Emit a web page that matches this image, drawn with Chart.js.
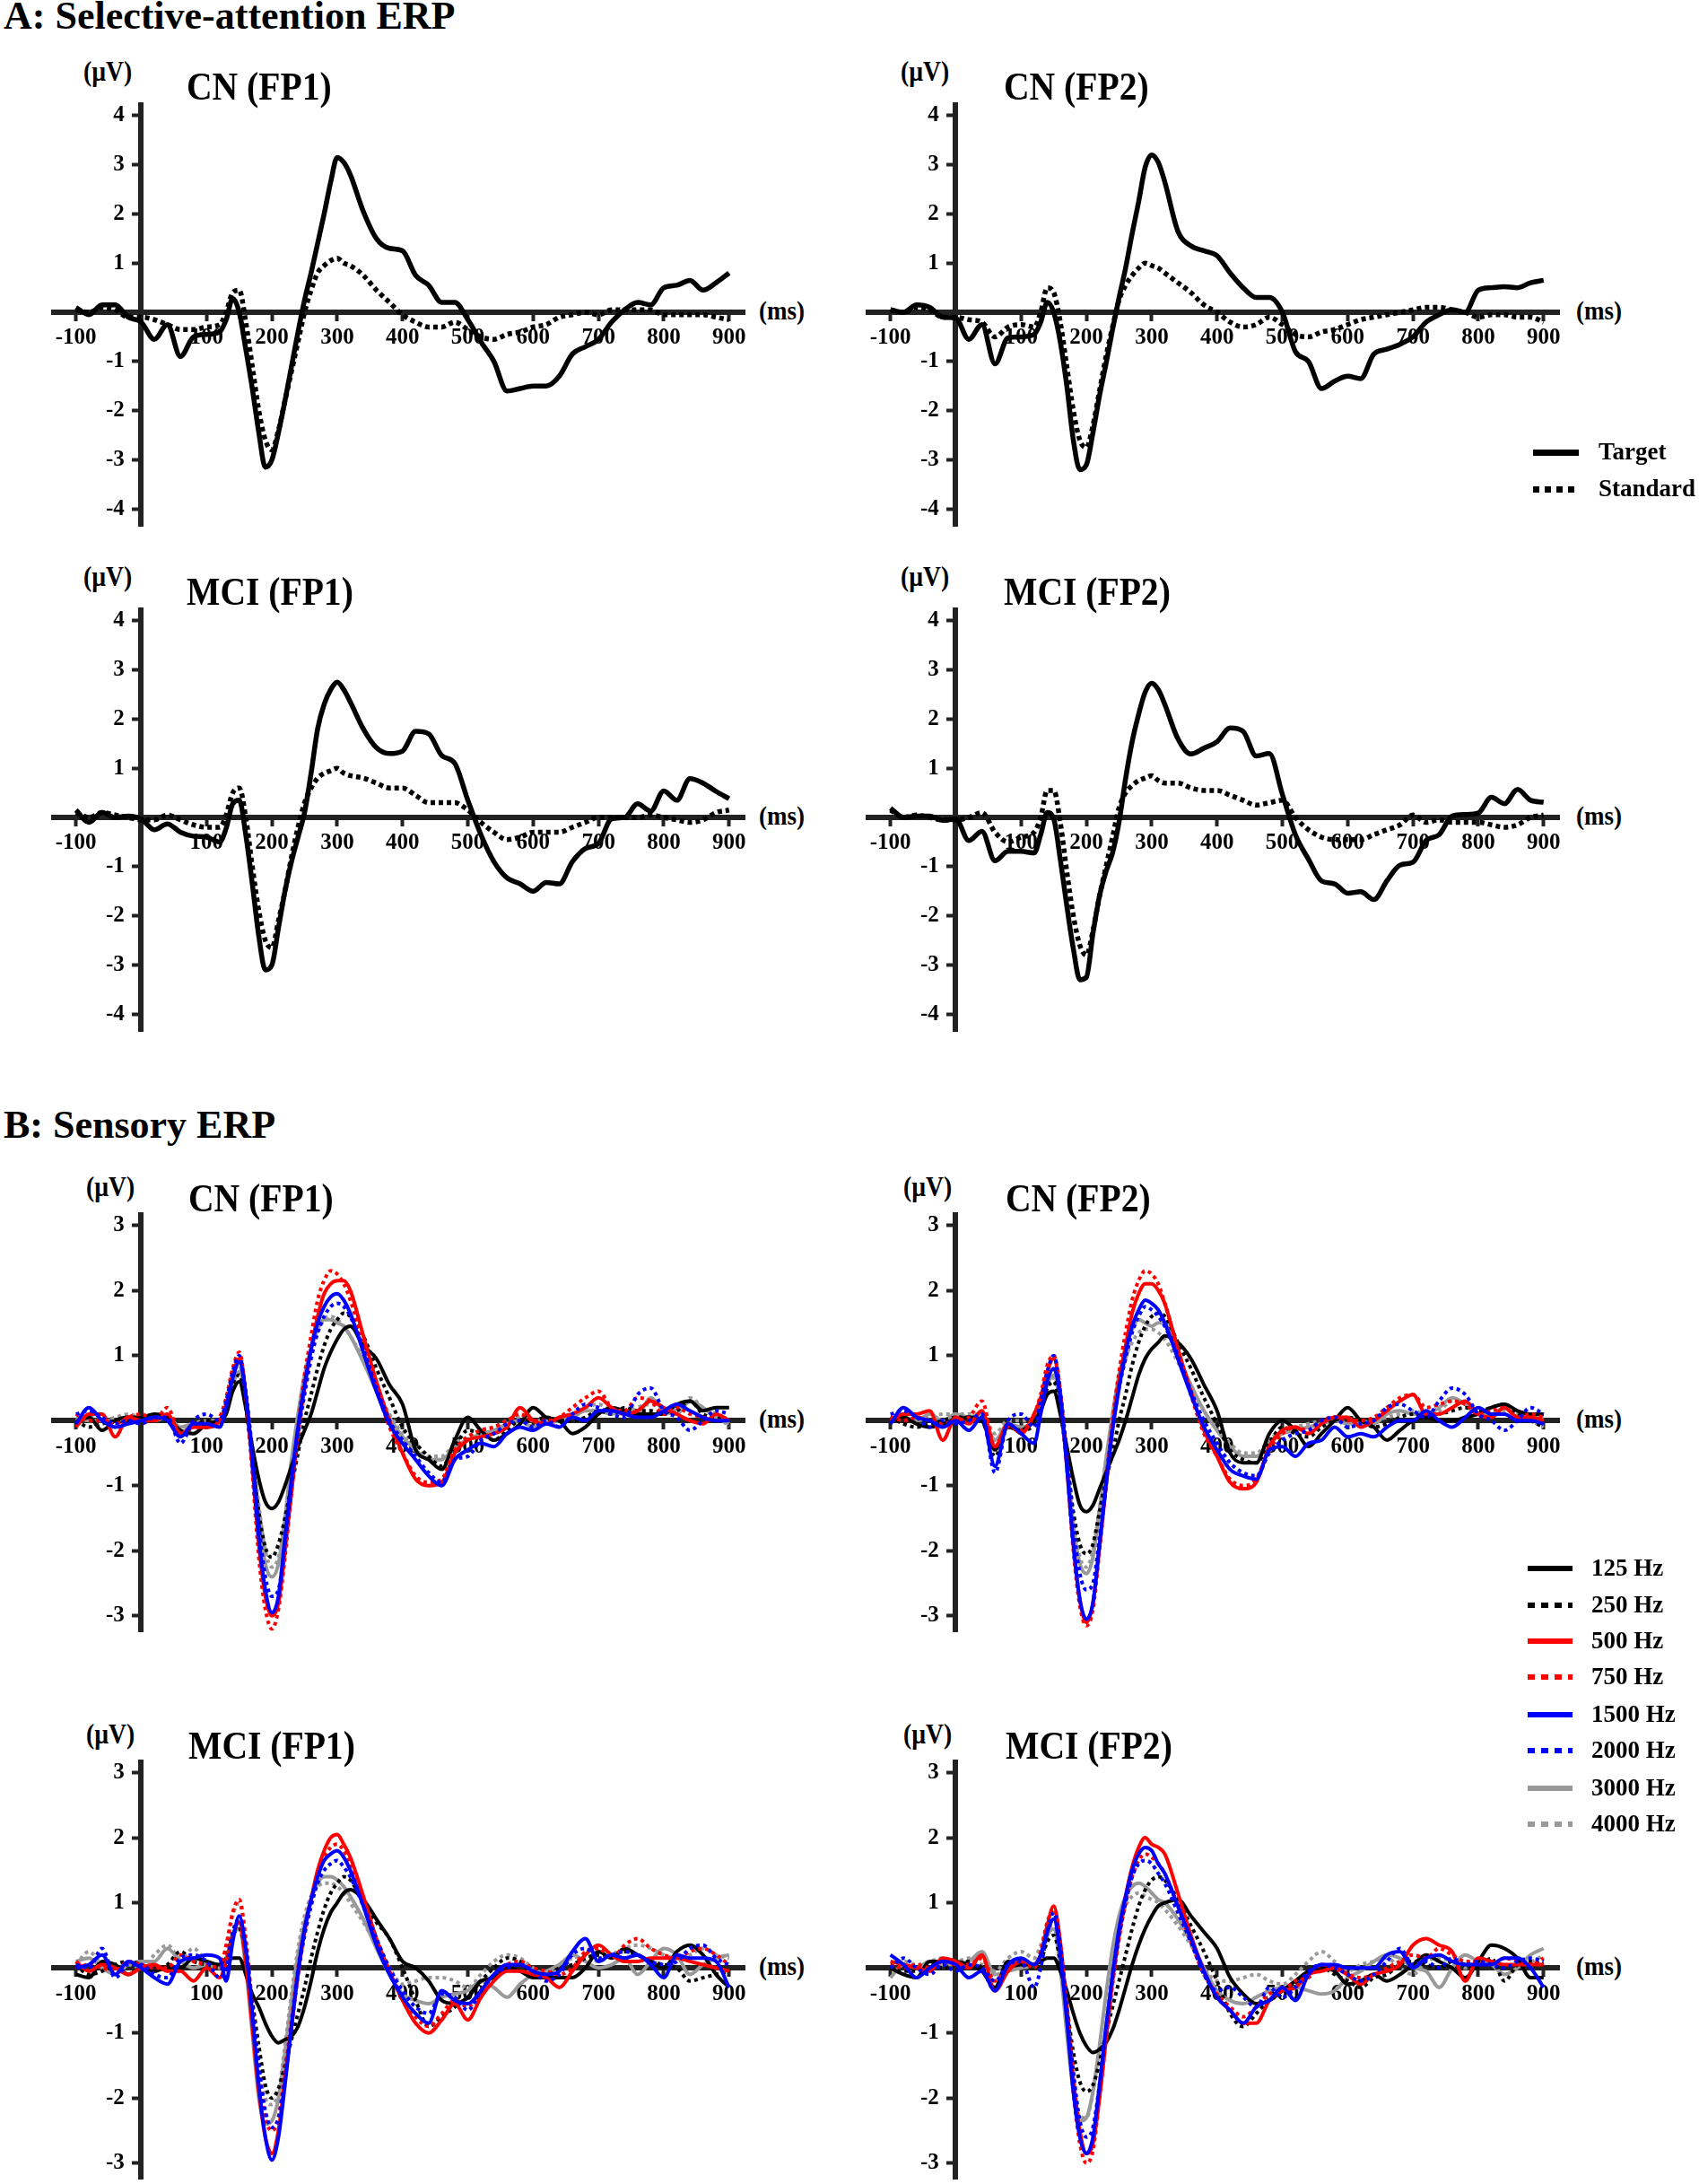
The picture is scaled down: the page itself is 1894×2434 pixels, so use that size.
<!DOCTYPE html>
<html>
<head>
<meta charset="utf-8">
<script src="https://cdn.jsdelivr.net/npm/chart.js@4.4.1/dist/chart.umd.min.js"></script>
<style>
  html, body { margin: 0; padding: 0; background: #fff; }
  #fig { position: relative; width: 1894px; height: 2434px; overflow: hidden; background: #fff;
         font-family: 'Liberation Serif', 'Times New Roman', serif; font-weight: bold; color: #000; }
  #fig canvas { position: absolute; }
  .t { position: absolute; white-space: nowrap; line-height: 1; transform-origin: 0 0; }
  .sw { position: absolute; }
</style>
</head>
<body>
<div id="fig"></div>
<script>
// time points (ms) shared by every curve
const msGrid = [
  -100, -80, -60, -40, -20, 0, 20, 40, 60, 80, 100, 120,
  130, 140, 150, 160, 170, 180, 190, 200, 210, 220, 230, 240, 250, 260, 270, 280, 290, 300, 310, 320,
  340, 360, 380, 400, 420, 440, 460, 480, 500, 520, 540, 560, 580, 600, 620, 640, 660, 680, 700, 720, 740, 760, 780, 800, 820, 840, 860, 880, 900
];
const xTickValues = [-100, 100, 200, 300, 400, 500, 600, 700, 800, 900];
const yTicksA = [-4, -3, -2, -1, 1, 2, 3, 4];
const yTicksB = [-3, -2, -1, 1, 2, 3];

const panelTitles = ['CN (FP1)', 'CN (FP2)', 'MCI (FP1)', 'MCI (FP2)'];
const conditionLabels = ['Target', 'Standard'];
const toneLabels = ['125 Hz', '250 Hz', '500 Hz', '750 Hz', '1500 Hz', '2000 Hz', '3000 Hz', '4000 Hz'];

// --- A: selective-attention ERP (µV) ---
const cnFp1Target = [
  0.1, -0.05, 0.15, 0.15, -0.1, -0.2, -0.55, -0.25, -0.9, -0.5, -0.45, -0.4,
  -0.15, 0.28, 0.0, -0.75, -1.55, -2.45, -3.15, -3.0, -2.45, -1.8, -1.1, -0.4, 0.25, 0.8, 1.4, 2.0, 2.65, 3.15, 3.05, 2.8,
  2.05, 1.5, 1.3, 1.25, 0.75, 0.55, 0.2, 0.2, -0.15, -0.6, -1.0, -1.6, -1.55, -1.5, -1.5, -1.3, -0.85, -0.7, -0.55, -0.2, 0.05, 0.2, 0.15, 0.5, 0.55, 0.65, 0.45, 0.6, 0.8
];
const cnFp1Standard = [
  0.05, 0.0, 0.1, 0.05, -0.1, -0.1, -0.15, -0.25, -0.35, -0.35, -0.3, -0.25,
  0.0, 0.4, 0.45, -0.2, -1.1, -2.0, -2.6, -2.8, -2.4, -1.8, -1.2, -0.6, 0.0, 0.45, 0.8, 0.95, 1.05, 1.1, 1.0, 0.95,
  0.75, 0.45, 0.2, -0.05, -0.2, -0.3, -0.3, -0.2, -0.35, -0.5, -0.55, -0.45, -0.4, -0.3, -0.25, -0.1, -0.05, 0.0, -0.05, 0.05, 0.05, 0.05, 0.05, -0.05, -0.05, -0.05, -0.05, -0.1, -0.15
];
const cnFp2Target = [
  0.05, 0.0, 0.15, 0.1, -0.1, -0.12, -0.55, -0.25, -1.05, -0.52, -0.5, -0.45,
  -0.2, 0.2, 0.0, -0.6, -1.5, -2.6, -3.2, -3.1, -2.45, -1.7, -1.05, -0.35, 0.3, 0.9, 1.6, 2.25, 2.95, 3.2, 3.05, 2.65,
  1.65, 1.35, 1.25, 1.15, 0.8, 0.5, 0.3, 0.3, 0.0, -0.8, -1.0, -1.55, -1.4, -1.3, -1.35, -0.85, -0.75, -0.65, -0.5, -0.2, -0.05, 0.05, 0.0, 0.45, 0.5, 0.52, 0.5, 0.6, 0.65
];
const cnFp2Standard = [
  0.05, 0.0, 0.1, 0.05, -0.1, -0.1, -0.15, -0.2, -0.5, -0.3, -0.25, -0.3,
  0.0, 0.5, 0.4, -0.2, -1.1, -2.0, -2.6, -2.75, -2.3, -1.6, -0.9, -0.3, 0.25, 0.55, 0.75, 0.9, 1.0, 0.95, 0.9, 0.8,
  0.6, 0.4, 0.15, 0.0, -0.2, -0.3, -0.25, -0.1, -0.25, -0.45, -0.5, -0.4, -0.35, -0.25, -0.15, -0.1, -0.05, 0.0, 0.05, 0.1, 0.1, 0.05, 0.0, -0.1, -0.05, -0.05, -0.1, -0.1, -0.2
];
const mciFp1Target = [
  0.15, -0.1, 0.1, 0.0, 0.03, -0.03, -0.25, -0.13, -0.3, -0.38, -0.4, -0.5,
  -0.22, 0.28, 0.35, -0.35, -1.35, -2.42, -3.1, -3.0, -2.25, -1.5, -0.9, -0.4, 0.1, 0.9, 1.8, 2.3, 2.6, 2.75, 2.6, 2.35,
  1.8, 1.42, 1.3, 1.35, 1.75, 1.7, 1.26, 1.1, 0.35, -0.35, -0.9, -1.23, -1.35, -1.5, -1.32, -1.35, -0.9, -0.63, -0.53, -0.03, 0.0, 0.28, 0.13, 0.54, 0.35, 0.79, 0.7, 0.53, 0.38
];
const mciFp1Standard = [
  0.1, 0.0, 0.1, 0.05, 0.0, -0.05, -0.05, 0.05, -0.05, -0.15, -0.2, -0.2,
  0.05, 0.5, 0.6, 0.0, -1.0, -1.9, -2.5, -2.65, -2.1, -1.5, -0.8, -0.2, 0.3, 0.6, 0.8, 0.9, 0.95, 1.0, 0.9, 0.85,
  0.8, 0.7, 0.6, 0.6, 0.45, 0.3, 0.3, 0.3, 0.15, -0.1, -0.3, -0.45, -0.4, -0.3, -0.3, -0.3, -0.2, -0.1, 0.0, 0.0, 0.0, 0.0, 0.05, 0.0, -0.05, -0.1, -0.05, 0.1, 0.15
];
const mciFp2Target = [
  0.19, 0.0, 0.03, 0.03, -0.06, -0.03, -0.47, -0.28, -0.88, -0.69, -0.69, -0.72,
  -0.35, 0.1, -0.03, -0.85, -1.8, -2.67, -3.3, -3.25, -2.36, -1.6, -1.1, -0.72, -0.09, 0.79, 1.54, 2.1, 2.55, 2.73, 2.6, 2.3,
  1.6, 1.29, 1.41, 1.54, 1.82, 1.75, 1.25, 1.3, 0.47, -0.35, -0.85, -1.29, -1.35, -1.54, -1.51, -1.67, -1.29, -0.97, -0.91, -0.47, -0.35, 0.03, 0.06, 0.09, 0.41, 0.28, 0.57, 0.35, 0.31
];
const mciFp2Standard = [
  0.15, 0.0, 0.05, 0.0, -0.05, -0.05, 0.0, 0.1, -0.3, -0.5, -0.4, -0.3,
  0.0, 0.55, 0.55, -0.1, -1.1, -2.0, -2.6, -2.8, -2.3, -1.6, -1.0, -0.4, 0.2, 0.5, 0.65, 0.75, 0.8, 0.85, 0.75, 0.7,
  0.7, 0.6, 0.55, 0.55, 0.45, 0.35, 0.25, 0.3, 0.35, 0.0, -0.25, -0.4, -0.45, -0.45, -0.45, -0.35, -0.25, -0.15, 0.05, -0.1, -0.05, -0.1, -0.1, -0.1, -0.15, -0.2, -0.15, 0.0, 0.05
];

// --- B: sensory ERP (µV), one array per tone ---
const cnFp1Hz125 = [
  -0.05, 0.05, -0.15, 0.0, 0.05, 0.05, 0.1, 0.05, -0.15, -0.2, -0.05, 0.0,
  0.1, 0.45, 0.6, 0.2, -0.4, -0.9, -1.25, -1.35, -1.25, -1.0, -0.7, -0.4, -0.15, 0.1, 0.45, 0.8, 1.05, 1.25, 1.4, 1.45,
  1.15, 0.95, 0.55, 0.25, -0.45, -0.6, -0.75, -0.3, 0.05, -0.15, -0.3, -0.2, -0.05, 0.2, 0.05, 0.0, -0.2, -0.1, 0.1, 0.2, 0.15, 0.1, 0.1, 0.1, 0.25, 0.3, 0.15, 0.2, 0.2
];
const cnFp1Hz250 = [
  0.0, -0.1, -0.05, 0.0, 0.05, 0.0, 0.05, 0.0, -0.2, -0.1, 0.0, -0.05,
  0.15, 0.55, 0.7, 0.2, -0.6, -1.4, -1.95, -2.1, -1.9, -1.5, -1.0, -0.5, 0.0, 0.4, 0.8, 1.15, 1.4, 1.55, 1.65, 1.6,
  1.3, 0.8, 0.35, -0.1, -0.35, -0.55, -0.7, -0.4, -0.15, -0.2, -0.3, -0.15, 0.0, 0.0, 0.05, 0.0, 0.0, 0.05, 0.15, 0.1, 0.2, 0.15, 0.15, 0.1, 0.15, 0.3, 0.1, 0.05, 0.0
];
const cnFp1Hz500 = [
  -0.1, 0.1, 0.1, -0.25, 0.05, 0.0, 0.0, 0.1, -0.2, -0.1, -0.1, 0.0,
  0.25, 0.7, 0.95, 0.4, -0.7, -1.9, -2.7, -3.0, -2.8, -2.0, -1.1, -0.2, 0.5, 1.1, 1.6, 1.95, 2.1, 2.15, 2.15, 2.0,
  1.3, 0.6, 0.0, -0.5, -0.9, -1.0, -0.95, -0.5, -0.3, -0.25, -0.2, -0.1, 0.2, 0.0, -0.05, 0.05, 0.1, 0.2, 0.35, 0.2, 0.1, 0.15, 0.3, 0.2, 0.1, 0.0, -0.05, 0.1, 0.0
];
const cnFp1Hz750 = [
  0.1, 0.0, 0.0, -0.05, 0.05, 0.1, 0.0, 0.2, -0.2, -0.1, -0.1, 0.05,
  0.35, 0.8, 1.05, 0.4, -0.8, -2.1, -2.9, -3.2, -2.9, -2.1, -1.1, -0.1, 0.7, 1.3, 1.85, 2.15, 2.3, 2.25, 2.1, 1.85,
  1.2, 0.5, -0.1, -0.5, -0.85, -0.95, -0.9, -0.45, -0.25, -0.15, -0.1, 0.0, 0.1, 0.0, 0.0, 0.05, 0.2, 0.35, 0.45, 0.2, 0.15, 0.35, 0.3, 0.1, 0.2, 0.1, 0.05, 0.0, 0.05
];
const cnFp1Hz1500 = [
  -0.05, 0.2, 0.0, -0.1, -0.05, 0.0, 0.05, 0.0, -0.25, -0.05, -0.05, -0.1,
  0.2, 0.65, 0.9, 0.4, -0.6, -1.8, -2.6, -2.95, -2.7, -1.8, -0.9, -0.1, 0.55, 1.1, 1.5, 1.75, 1.9, 1.95, 1.85, 1.65,
  1.05, 0.45, -0.05, -0.35, -0.6, -0.85, -1.0, -0.6, -0.45, -0.35, -0.4, -0.2, -0.1, -0.15, -0.05, -0.1, 0.05, 0.0, 0.15, 0.15, 0.1, 0.05, 0.05, 0.15, 0.25, 0.15, 0.05, 0.0, 0.0
];
const cnFp1Hz2000 = [
  0.1, 0.15, 0.05, -0.05, 0.0, -0.05, 0.05, 0.05, -0.35, 0.0, 0.1, 0.0,
  0.3, 0.75, 1.0, 0.45, -0.5, -1.6, -2.4, -2.7, -2.6, -1.9, -1.0, -0.2, 0.4, 0.95, 1.35, 1.6, 1.75, 1.8, 1.75, 1.6,
  1.1, 0.5, 0.0, -0.3, -0.55, -0.8, -0.95, -0.6, -0.55, -0.3, -0.2, -0.05, 0.0, -0.1, 0.0, -0.1, 0.1, 0.25, 0.2, 0.1, 0.05, 0.4, 0.5, 0.15, 0.05, -0.15, 0.0, 0.15, 0.1
];
const cnFp1Hz3000 = [
  0.05, 0.0, 0.0, 0.0, 0.05, 0.05, 0.0, 0.05, -0.1, -0.05, -0.1, -0.05,
  0.2, 0.55, 0.75, 0.3, -0.5, -1.5, -2.2, -2.4, -2.2, -1.5, -0.6, 0.1, 0.7, 1.1, 1.4, 1.55, 1.55, 1.5, 1.45, 1.3,
  0.9, 0.45, 0.05, -0.25, -0.45, -0.6, -0.6, -0.4, -0.3, -0.2, -0.15, -0.05, 0.0, -0.1, -0.05, 0.0, 0.05, 0.15, 0.15, 0.1, 0.15, 0.1, 0.35, 0.15, 0.1, 0.3, 0.2, 0.05, -0.05
];
const cnFp1Hz4000 = [
  0.0, 0.05, 0.0, 0.05, 0.1, 0.05, 0.05, 0.0, -0.15, -0.05, 0.0, 0.0,
  0.2, 0.6, 0.8, 0.35, -0.4, -1.3, -2.0, -2.25, -2.1, -1.5, -0.7, 0.05, 0.65, 1.05, 1.35, 1.55, 1.6, 1.55, 1.45, 1.3,
  0.95, 0.5, 0.1, -0.2, -0.4, -0.55, -0.55, -0.35, -0.25, -0.15, -0.1, 0.0, 0.05, 0.0, 0.0, 0.05, 0.1, 0.2, 0.25, 0.15, 0.1, 0.2, 0.25, 0.2, 0.15, 0.35, 0.2, 0.1, -0.1
];

const cnFp2Hz125 = [
  0.0, 0.05, -0.05, -0.1, -0.05, 0.0, 0.05, 0.0, -0.45, -0.1, -0.15, 0.0,
  0.15, 0.4, 0.45, 0.1, -0.4, -0.9, -1.3, -1.4, -1.3, -1.05, -0.8, -0.55, -0.3, 0.0, 0.35, 0.7, 0.95, 1.1, 1.2, 1.3,
  1.2, 0.95, 0.55, 0.15, -0.5, -0.65, -0.65, -0.2, 0.0, -0.15, -0.4, -0.2, 0.0, 0.2, 0.0, -0.1, -0.3, -0.15, 0.0, 0.05, 0.0, 0.0, 0.05, 0.1, 0.2, 0.25, 0.15, 0.1, 0.1
];
const cnFp2Hz250 = [
  0.05, -0.05, -0.1, -0.05, 0.0, 0.05, 0.05, 0.0, -0.55, -0.1, -0.15, -0.05,
  0.2, 0.5, 0.6, 0.15, -0.6, -1.4, -1.9, -2.05, -1.9, -1.4, -0.9, -0.5, 0.0, 0.4, 0.85, 1.2, 1.45, 1.6, 1.65, 1.6,
  1.2, 0.8, 0.35, -0.05, -0.45, -0.6, -0.65, -0.35, -0.1, -0.2, -0.25, -0.1, 0.0, 0.05, 0.0, -0.1, -0.05, 0.05, 0.1, 0.05, 0.1, 0.15, 0.2, 0.15, 0.2, 0.25, 0.1, 0.0, -0.1
];
const cnFp2Hz500 = [
  0.0, 0.1, 0.1, 0.15, -0.3, 0.05, -0.05, 0.15, -0.4, -0.05, -0.2, 0.1,
  0.35, 0.75, 0.95, 0.4, -0.7, -1.9, -2.75, -3.1, -2.8, -1.95, -1.0, -0.1, 0.6, 1.15, 1.65, 1.95, 2.1, 2.1, 2.0, 1.8,
  1.1, 0.45, -0.15, -0.55, -0.95, -1.05, -0.95, -0.4, -0.15, -0.1, -0.2, -0.05, 0.05, 0.05, -0.1, 0.0, 0.15, 0.3, 0.4, 0.1, 0.1, 0.2, 0.3, 0.1, 0.05, 0.2, 0.05, 0.05, 0.0
];
const cnFp2Hz750 = [
  0.05, 0.0, 0.05, 0.0, -0.05, 0.0, 0.05, 0.3, -0.4, -0.1, -0.15, 0.1,
  0.4, 0.85, 1.0, 0.45, -0.7, -2.0, -2.85, -3.15, -2.9, -2.0, -1.0, 0.0, 0.75, 1.35, 1.85, 2.15, 2.3, 2.25, 2.1, 1.8,
  1.1, 0.4, -0.2, -0.55, -0.9, -1.0, -0.9, -0.45, -0.2, -0.1, -0.15, 0.0, 0.05, 0.0, 0.0, 0.05, 0.2, 0.35, 0.4, 0.2, 0.25, 0.3, 0.25, 0.1, 0.15, 0.2, 0.05, 0.1, 0.05
];
const cnFp2Hz1500 = [
  -0.05, 0.2, 0.05, 0.0, -0.1, 0.0, -0.15, 0.05, -0.7, -0.05, -0.2, -0.35,
  0.1, 0.6, 0.8, 0.35, -0.7, -1.9, -2.75, -3.05, -2.8, -1.9, -1.0, -0.15, 0.5, 1.05, 1.45, 1.7, 1.85, 1.8, 1.7, 1.5,
  0.95, 0.4, -0.1, -0.45, -0.75, -0.85, -0.9, -0.45, -0.4, -0.55, -0.35, -0.3, -0.1, -0.25, -0.2, -0.25, -0.1, 0.0, 0.0, 0.15, 0.0, -0.1, 0.05, 0.2, 0.1, 0.1, 0.0, 0.0, -0.05
];
const cnFp2Hz2000 = [
  0.1, 0.15, 0.05, -0.1, 0.0, -0.05, 0.0, 0.1, -0.8, 0.0, 0.1, -0.1,
  0.3, 0.75, 1.0, 0.45, -0.5, -1.6, -2.35, -2.6, -2.5, -1.8, -0.9, -0.1, 0.5, 0.95, 1.35, 1.6, 1.75, 1.7, 1.6, 1.45,
  1.0, 0.45, 0.0, -0.35, -0.65, -0.8, -0.85, -0.5, -0.3, -0.2, -0.15, 0.0, 0.05, -0.1, -0.05, 0.0, 0.2, 0.25, 0.15, 0.05, 0.3, 0.5, 0.4, 0.1, 0.0, -0.15, 0.0, 0.2, 0.1
];
const cnFp2Hz3000 = [
  0.05, 0.05, 0.0, 0.1, 0.0, 0.1, 0.05, 0.1, -0.3, -0.05, -0.1, 0.0,
  0.2, 0.55, 0.7, 0.25, -0.6, -1.6, -2.2, -2.35, -2.1, -1.4, -0.6, 0.1, 0.7, 1.1, 1.4, 1.55, 1.5, 1.45, 1.5, 1.5,
  1.0, 0.55, 0.15, -0.15, -0.4, -0.55, -0.55, -0.35, -0.2, -0.15, -0.1, -0.05, 0.0, -0.05, 0.0, -0.05, 0.1, 0.15, 0.1, 0.1, 0.2, 0.35, 0.25, 0.1, 0.1, 0.2, 0.05, 0.1, 0.05
];
const cnFp2Hz4000 = [
  0.0, 0.05, 0.0, 0.05, 0.1, 0.1, 0.1, 0.1, -0.2, 0.0, 0.0, 0.0,
  0.15, 0.5, 0.65, 0.25, -0.5, -1.5, -2.1, -2.25, -2.0, -1.35, -0.6, 0.05, 0.55, 0.95, 1.2, 1.35, 1.4, 1.4, 1.35, 1.25,
  0.9, 0.5, 0.15, -0.15, -0.35, -0.5, -0.5, -0.3, -0.15, -0.1, -0.05, 0.0, 0.05, 0.0, -0.05, 0.0, 0.05, 0.1, 0.15, 0.1, 0.15, 0.3, 0.25, 0.1, 0.1, 0.15, 0.1, 0.0, -0.1
];

const mciFp1Hz125 = [
  -0.1, -0.15, 0.1, 0.05, -0.1, 0.0, -0.05, 0.0, 0.0, 0.15, 0.1, 0.05,
  0.1, 0.15, 0.15, -0.1, -0.4, -0.6, -0.85, -1.05, -1.15, -1.1, -1.05, -0.9, -0.6, -0.2, 0.25, 0.6, 0.85, 1.0, 1.15, 1.2,
  1.05, 0.75, 0.45, 0.1, 0.0, -0.2, -0.5, -0.55, -0.45, -0.2, -0.15, 0.0, -0.05, -0.15, -0.15, -0.15, -0.15, 0.0, 0.25, 0.15, 0.3, 0.2, 0.1, 0.0, 0.25, 0.35, 0.2, -0.1, -0.3
];
const mciFp1Hz250 = [
  0.05, -0.1, -0.05, 0.05, 0.1, 0.05, -0.05, 0.05, 0.25, 0.1, 0.05, 0.0,
  0.15, 0.5, 0.6, 0.2, -0.5, -1.2, -1.8, -2.0, -1.85, -1.5, -1.1, -0.7, -0.3, 0.15, 0.55, 0.9, 1.15, 1.3, 1.4, 1.35,
  1.0, 0.7, 0.45, 0.0, -0.5, -0.9, -0.75, -0.6, -0.45, -0.2, 0.0, 0.15, 0.1, -0.1, -0.1, 0.0, 0.05, 0.15, 0.2, 0.2, 0.25, 0.2, 0.1, 0.05, 0.0, -0.2, -0.15, -0.1, -0.05
];
const mciFp1Hz500 = [
  0.1, -0.05, 0.05, 0.0, -0.1, 0.0, 0.05, -0.05, -0.05, -0.2, 0.0, -0.15,
  0.1, 0.5, 0.7, 0.1, -0.9, -1.9, -2.6, -2.85, -2.5, -1.7, -0.9, -0.1, 0.55, 1.05, 1.5, 1.8, 2.0, 2.05, 1.9, 1.7,
  1.1, 0.45, -0.05, -0.5, -0.85, -1.0, -0.8, -0.55, -0.8, -0.45, -0.2, -0.05, -0.05, -0.1, -0.15, -0.3, -0.05, 0.2, 0.35, 0.2, 0.1, 0.1, 0.15, 0.15, 0.15, 0.1, 0.05, 0.0, -0.05
];
const mciFp1Hz750 = [
  0.0, 0.05, 0.0, -0.05, 0.1, 0.05, 0.0, 0.0, 0.2, 0.1, 0.05, 0.0,
  0.35, 0.85, 1.05, 0.45, -0.6, -1.6, -2.3, -2.5, -2.3, -1.6, -0.8, 0.0, 0.6, 1.05, 1.45, 1.7, 1.85, 1.9, 1.8, 1.6,
  1.05, 0.45, -0.05, -0.45, -0.75, -0.9, -0.7, -0.5, -0.6, -0.35, -0.1, 0.05, 0.1, 0.0, -0.05, -0.1, 0.0, 0.25, 0.3, 0.15, 0.35, 0.45, 0.3, 0.2, 0.15, 0.25, 0.3, 0.2, 0.05
];
const mciFp1Hz1500 = [
  0.0, 0.05, 0.2, -0.1, 0.1, 0.0, -0.15, -0.25, 0.1, 0.15, 0.2, 0.15,
  -0.2, 0.4, 0.8, 0.3, -0.7, -1.8, -2.6, -2.95, -2.6, -1.8, -0.9, -0.05, 0.6, 1.05, 1.4, 1.65, 1.75, 1.8, 1.7, 1.5,
  0.95, 0.35, -0.1, -0.45, -0.7, -0.85, -0.35, -0.5, -0.55, -0.35, -0.1, 0.05, 0.05, -0.05, -0.1, -0.05, 0.25, 0.45, 0.1, 0.2, 0.15, 0.2, 0.05, -0.15, 0.2, 0.15, 0.15, 0.1, -0.3
];
const mciFp1Hz2000 = [
  0.05, 0.0, 0.3, -0.15, 0.05, 0.05, -0.1, -0.15, 0.15, 0.2, 0.1, -0.15,
  0.0, 0.55, 0.75, 0.3, -0.6, -1.5, -2.2, -2.45, -2.3, -1.7, -0.9, -0.1, 0.5, 0.95, 1.3, 1.5, 1.6, 1.65, 1.55, 1.4,
  0.95, 0.45, 0.0, -0.35, -0.6, -0.7, -0.4, -0.45, -0.65, -0.35, -0.1, 0.0, 0.05, -0.05, -0.2, -0.1, 0.2, 0.3, 0.15, 0.2, 0.25, 0.2, 0.1, 0.05, 0.1, 0.3, 0.35, 0.15, 0.05
];
const mciFp1Hz3000 = [
  0.1, 0.15, 0.0, -0.1, 0.05, 0.1, 0.1, 0.3, 0.1, 0.0, 0.05, 0.0,
  0.15, 0.5, 0.6, 0.0, -1.0, -2.0, -2.4, -2.35, -2.0, -1.3, -0.5, 0.2, 0.7, 1.05, 1.3, 1.4, 1.4, 1.35, 1.25, 1.1,
  0.75, 0.3, -0.1, -0.4, -0.5, -0.55, -0.45, -0.4, -0.35, -0.2, -0.3, -0.45, -0.25, -0.1, -0.05, 0.05, 0.2, 0.1, 0.0, 0.05, 0.15, -0.1, 0.1, 0.3, 0.2, -0.1, 0.05, 0.15, 0.2
];
const mciFp1Hz4000 = [
  0.05, 0.25, 0.05, 0.0, 0.05, 0.0, 0.2, 0.35, 0.15, 0.3, 0.1, 0.05,
  0.3, 0.8, 1.0, 0.4, -0.6, -1.5, -2.0, -2.1, -1.9, -1.2, -0.4, 0.3, 0.8, 1.1, 1.25, 1.3, 1.3, 1.25, 1.15, 1.0,
  0.7, 0.35, 0.0, -0.25, -0.2, -0.15, -0.15, -0.2, -0.3, -0.1, 0.1, 0.2, 0.15, 0.0, -0.1, 0.05, 0.15, 0.2, 0.1, 0.2, 0.3, 0.35, 0.3, 0.2, 0.15, 0.2, 0.3, 0.2, 0.15
];

const mciFp2Hz125 = [
  0.0, -0.1, -0.15, 0.1, 0.1, 0.1, 0.05, -0.05, -0.3, 0.1, 0.05, 0.05,
  0.1, 0.15, 0.15, -0.05, -0.35, -0.7, -1.0, -1.2, -1.3, -1.25, -1.15, -0.95, -0.65, -0.3, 0.05, 0.35, 0.6, 0.8, 0.95, 1.0,
  1.05, 0.8, 0.55, 0.3, -0.15, -0.4, -0.55, -0.5, -0.35, -0.2, -0.05, 0.0, -0.05, -0.25, -0.2, -0.1, -0.2, -0.1, 0.05, 0.2, 0.1, 0.0, -0.15, 0.1, 0.35, 0.3, 0.15, -0.15, -0.15
];
const mciFp2Hz250 = [
  0.0, -0.05, -0.05, 0.05, 0.0, 0.05, 0.1, 0.0, -0.35, 0.0, 0.05, 0.0,
  0.1, 0.4, 0.5, 0.1, -0.6, -1.3, -1.75, -1.9, -1.8, -1.45, -1.0, -0.6, -0.2, 0.2, 0.6, 0.95, 1.2, 1.35, 1.4, 1.35,
  1.05, 0.65, 0.25, -0.2, -0.7, -0.9, -0.7, -0.5, -0.4, -0.25, -0.1, 0.0, -0.1, -0.2, -0.3, -0.15, -0.1, 0.05, 0.1, 0.05, 0.0, 0.1, 0.05, 0.0, 0.15, -0.2, 0.05, 0.1, 0.05
];
const mciFp2Hz500 = [
  0.1, 0.05, 0.0, -0.05, 0.15, 0.1, 0.0, 0.2, -0.35, -0.05, 0.1, 0.05,
  0.2, 0.65, 0.95, 0.4, -0.6, -1.7, -2.5, -2.85, -2.7, -2.0, -1.1, -0.2, 0.5, 1.1, 1.55, 1.85, 2.0, 1.9, 1.85, 1.75,
  1.15, 0.5, -0.05, -0.45, -0.65, -0.85, -0.85, -0.5, -0.35, -0.3, -0.1, -0.05, 0.0, -0.1, -0.25, -0.1, -0.05, 0.05, 0.35, 0.45, 0.35, 0.25, -0.2, 0.15, 0.1, 0.05, 0.05, 0.05, 0.05
];
const mciFp2Hz750 = [
  0.05, 0.0, 0.05, 0.0, 0.1, 0.05, 0.05, 0.15, -0.2, 0.0, 0.1, 0.0,
  0.25, 0.7, 0.9, 0.35, -0.7, -1.9, -2.7, -3.0, -2.8, -2.0, -1.1, -0.25, 0.45, 1.0, 1.4, 1.65, 1.75, 1.7, 1.6, 1.45,
  0.95, 0.4, -0.1, -0.4, -0.6, -0.75, -0.6, -0.4, -0.35, -0.2, -0.15, 0.05, 0.0, -0.1, -0.15, -0.1, 0.0, 0.1, 0.2, 0.15, 0.3, 0.2, 0.1, 0.1, 0.05, 0.15, 0.1, 0.05, 0.15
];
const mciFp2Hz1500 = [
  0.2, 0.05, -0.15, 0.0, 0.1, 0.05, -0.15, -0.05, -0.35, 0.05, 0.15, 0.05,
  0.2, 0.55, 0.75, 0.2, -0.8, -1.9, -2.6, -2.85, -2.6, -1.8, -0.9, -0.1, 0.6, 1.1, 1.5, 1.75, 1.85, 1.8, 1.6, 1.45,
  0.95, 0.45, -0.05, -0.45, -0.65, -0.85, -0.6, -0.5, -0.3, -0.5, -0.1, 0.05, 0.05, 0.0, 0.0, 0.0, 0.2, 0.25, 0.0, 0.15, 0.2, 0.1, 0.05, 0.05, 0.05, 0.15, 0.15, 0.0, -0.3
];
const mciFp2Hz2000 = [
  0.0, 0.15, 0.0, -0.1, 0.05, -0.05, 0.05, 0.0, -0.2, 0.05, 0.1, -0.3,
  0.0, 0.55, 0.85, 0.35, -0.6, -1.6, -2.35, -2.6, -2.45, -1.8, -0.95, -0.15, 0.5, 1.0, 1.4, 1.6, 1.65, 1.6, 1.45, 1.3,
  0.85, 0.4, -0.1, -0.35, -0.3, -0.45, -0.6, -0.3, -0.45, -0.3, -0.05, 0.05, 0.0, -0.1, -0.2, -0.1, 0.1, 0.3, 0.05, 0.1, 0.0, 0.15, 0.05, 0.1, 0.05, 0.0, 0.1, 0.15, 0.1
];
const mciFp2Hz3000 = [
  -0.15, 0.05, 0.0, 0.1, 0.05, 0.05, 0.1, 0.25, -0.1, -0.05, 0.0, 0.05,
  0.2, 0.5, 0.6, 0.0, -1.0, -1.9, -2.35, -2.3, -1.9, -1.2, -0.4, 0.3, 0.8, 1.1, 1.25, 1.3, 1.25, 1.15, 1.05, 1.0,
  0.75, 0.4, 0.0, -0.35, -0.5, -0.55, -0.45, -0.35, -0.3, -0.3, -0.35, -0.4, -0.35, -0.15, -0.05, 0.1, 0.2, 0.15, 0.0, -0.05, -0.3, 0.0, 0.2, 0.1, 0.05, -0.1, 0.0, 0.2, 0.3
];
const mciFp2Hz4000 = [
  0.05, 0.1, 0.05, 0.1, 0.15, 0.1, 0.15, 0.05, -0.05, 0.15, 0.25, 0.15,
  0.35, 0.6, 0.65, 0.1, -0.9, -1.8, -2.3, -2.3, -1.9, -1.2, -0.5, 0.2, 0.65, 0.95, 1.1, 1.15, 1.1, 1.05, 1.0, 0.9,
  0.65, 0.35, 0.0, -0.2, -0.2, -0.15, -0.1, -0.2, -0.25, -0.1, 0.1, 0.25, 0.1, -0.05, 0.05, 0.1, 0.15, 0.0, -0.1, 0.1, 0.15, 0.1, 0.0, 0.1, 0.05, 0.15, 0.15, 0.1, 0.2
];

const attentionPanels = [
  [cnFp1Target, cnFp1Standard], [cnFp2Target, cnFp2Standard],
  [mciFp1Target, mciFp1Standard], [mciFp2Target, mciFp2Standard]
];
const sensoryPanels = [
  [cnFp1Hz125, cnFp1Hz250, cnFp1Hz500, cnFp1Hz750, cnFp1Hz1500, cnFp1Hz2000, cnFp1Hz3000, cnFp1Hz4000],
  [cnFp2Hz125, cnFp2Hz250, cnFp2Hz500, cnFp2Hz750, cnFp2Hz1500, cnFp2Hz2000, cnFp2Hz3000, cnFp2Hz4000],
  [mciFp1Hz125, mciFp1Hz250, mciFp1Hz500, mciFp1Hz750, mciFp1Hz1500, mciFp1Hz2000, mciFp1Hz3000, mciFp1Hz4000],
  [mciFp2Hz125, mciFp2Hz250, mciFp2Hz500, mciFp2Hz750, mciFp2Hz1500, mciFp2Hz2000, mciFp2Hz3000, mciFp2Hz4000]
];

// --- styles ---
const toneColors = ['#000000', '#000000', '#ff0000', '#ff0000', '#0000ff', '#0000ff', '#999999', '#999999'];
const toneDotted = [false, true, false, true, false, true, false, true];
const toneOrder = [4, 5, 2, 3, 0, 1, 6, 7]; // blue on top, gray at the back
const axisColor = '#222222';
const serif = "'Liberation Serif', 'Times New Roman', serif";

const fig = document.getElementById('fig');

function addText(text, x, baseline, size, squeeze) {
  const el = document.createElement('div');
  el.className = 't';
  el.textContent = text;
  el.style.left = x + 'px';
  el.style.top = (baseline - 0.8375 * size) + 'px';
  el.style.fontSize = size + 'px';
  if (squeeze) el.style.transform = 'scaleX(' + squeeze + ')';
  fig.appendChild(el);
}

function addSwatch(x, yMid, w, h, color, dotted, dash, gap) {
  const el = document.createElement('div');
  el.className = 'sw';
  el.style.left = x + 'px';
  el.style.top = (yMid - h / 2) + 'px';
  el.style.width = w + 'px';
  el.style.height = h + 'px';
  el.style.background = dotted
    ? 'repeating-linear-gradient(to right, ' + color + ' 0 ' + dash + 'px, transparent ' + dash + 'px ' + (dash + gap) + 'px)'
    : color;
  fig.appendChild(el);
}

function drawPanel(left, top, height, yMin, yMax, yTicks, datasets) {
  const canvas = document.createElement('canvas');
  canvas.width = 774;
  canvas.height = height;
  canvas.style.left = left + 'px';
  canvas.style.top = top + 'px';
  fig.appendChild(canvas);

  const tickFont = { family: serif, size: 25, weight: 'bold' };
  new Chart(canvas.getContext('2d'), {
    type: 'line',
    data: { datasets: datasets },
    options: {
      responsive: false,
      animation: false,
      events: [],
      layout: { padding: 0 },
      plugins: { legend: { display: false }, tooltip: { enabled: false } },
      elements: { point: { radius: 0 } },
      scales: {
        x: {
          type: 'linear', min: -138, max: 925,
          position: { y: 0 },
          afterBuildTicks: s => { s.ticks = xTickValues.map(v => ({ value: v })); },
          afterFit: s => { s.height = 0; s.paddingLeft = 0; s.paddingRight = 0; },
          grid: { drawOnChartArea: false, drawTicks: true, tickLength: 7, tickWidth: 4, tickColor: axisColor },
          border: { display: true, width: 6, color: axisColor },
          ticks: { font: tickFont, color: '#000', padding: 7, autoSkip: false, maxRotation: 0, minRotation: 0 }
        },
        y: {
          type: 'linear', min: yMin, max: yMax,
          position: { x: 0 },
          afterBuildTicks: s => { s.ticks = yTicks.map(v => ({ value: v })); },
          afterFit: s => { s.width = 0; s.paddingTop = 0; s.paddingBottom = 0; },
          grid: { drawOnChartArea: false, drawTicks: true, tickLength: 7, tickWidth: 4, tickColor: axisColor },
          border: { display: true, width: 6, color: axisColor },
          // labels sit right-aligned on the axis itself, so pad them away with trailing spaces
          ticks: { font: tickFont, color: '#000', callback: v => v + '\u00a0\u00a0\u00a0' }
        }
      }
    }
  });
}

function lineData(values) {
  return msGrid.map((t, i) => ({ x: t, y: values[i] }));
}

// --- section headings ---
addText('A: Selective-attention ERP', 4, 33, 44);
addText('B: Sensory ERP', 4, 1269, 44);

const colLeft = [57, 965];
const colText = [0, 911];

// --- A panels ---
const rowTopA = [114, 677];
const zeroA = [348, 911];
attentionPanels.forEach((pair, p) => {
  const r = Math.floor(p / 2), c = p % 2;
  const datasets = pair.map((vals, i) => ({
    data: lineData(vals),
    borderColor: '#000',
    borderWidth: 5.5,
    borderDash: i === 1 ? [5, 4] : [],
    borderCapStyle: 'butt',
    borderJoinStyle: 'round',
    cubicInterpolationMode: 'monotone',
    order: i
  }));
  drawPanel(colLeft[c], rowTopA[r], 473, -4.36, 4.27, yTicksA, datasets);
  addText('(\u00b5V)', 93 + colText[c], zeroA[r] - 258, 32, 0.86);
  addText(panelTitles[p], 208 + colText[c], zeroA[r] - 236, 44, 0.9);
  addText('(ms)', 846 + colText[c], zeroA[r] + 8, 30, 0.9);
});

// --- B panels ---
const rowTopB = [1351, 1961];
const zeroB = [1583, 2193];
sensoryPanels.forEach((set, p) => {
  const r = Math.floor(p / 2), c = p % 2;
  const datasets = set.map((vals, i) => ({
    data: lineData(vals),
    borderColor: toneColors[i],
    borderWidth: 4,
    borderDash: toneDotted[i] ? [4, 4] : [],
    borderCapStyle: 'butt',
    borderJoinStyle: 'round',
    cubicInterpolationMode: 'monotone',
    order: toneOrder[i]
  }));
  drawPanel(colLeft[c], rowTopB[r], 468, -3.25, 3.2, yTicksB, datasets);
  addText('(\u00b5V)', 96 + colText[c], zeroB[r] - 250, 32, 0.86);
  addText(panelTitles[p], 210 + colText[c], zeroB[r] - 232, 44, 0.9);
  addText('(ms)', 846 + colText[c], zeroB[r] + 8, 30, 0.9);
});

// --- legends ---
const legendAY = [504, 545];
conditionLabels.forEach((label, i) => {
  addSwatch(1709, legendAY[i], 51, 7, '#000', i === 1, 7, 6);
  addText(label, 1782, legendAY[i] + 9, 27);
});
const legendBY = [1748, 1789, 1829, 1869, 1911, 1951, 1993, 2033];
toneLabels.forEach((label, i) => {
  addSwatch(1703, legendBY[i], 50, 6, toneColors[i], toneDotted[i], 8, 7);
  addText(label, 1774, legendBY[i] + 9, 27);
});
</script>
</body>
</html>
